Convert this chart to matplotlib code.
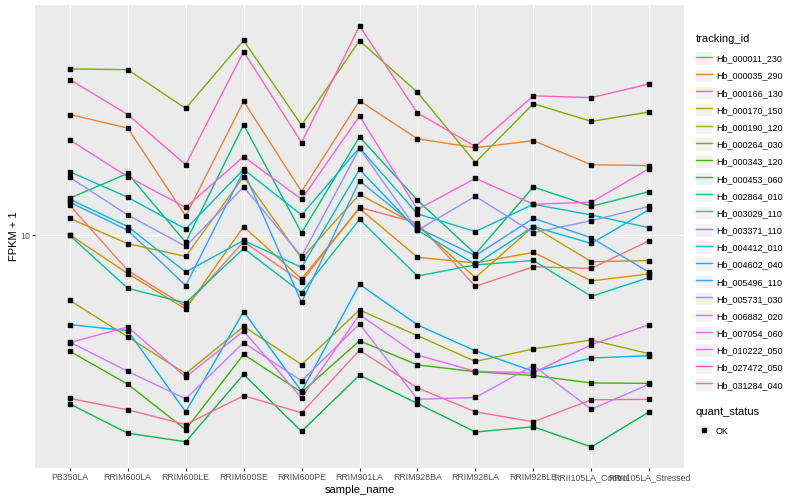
import numpy as np
import matplotlib
matplotlib.use("Agg")
import matplotlib.pyplot as plt
from matplotlib.lines import Line2D
from matplotlib.patches import Rectangle
from matplotlib.legend_handler import HandlerTuple
from matplotlib.ticker import FixedLocator, FixedFormatter, NullLocator

plt.rcParams['font.family'] = ['Liberation Sans', 'DejaVu Sans']

samples = ["PB350LA", "RRIM600LA", "RRIM600LE", "RRIM600SE", "RRIM600PE",
           "RRIM901LA", "RRIM928BA", "RRIM928LA", "RRIM928LE",
           "RRII105LA_Control", "RRII105LA_Stressed"]

genes = ["Hb_000011_230", "Hb_000035_290", "Hb_000166_130", "Hb_000170_150",
         "Hb_000190_120", "Hb_000264_030", "Hb_000343_120", "Hb_000453_060",
         "Hb_002864_010", "Hb_003029_110", "Hb_003371_110", "Hb_004412_010",
         "Hb_004602_040", "Hb_005496_110", "Hb_005731_030", "Hb_006882_020",
         "Hb_007054_060", "Hb_010222_050", "Hb_027472_050", "Hb_031284_040"]

# FPKM + 1, one list per gene, in sample order
hb_000011_230 = [12.6, 7.64, 5.80, 9.53, 7.01, 12.4, 11.0, 6.76, 7.86, 7.76, 9.60]
hb_000035_290 = [25.3, 22.8, 11.6, 28.0, 14.0, 28.1, 21.0, 19.6, 20.7, 17.2, 17.1]
hb_000166_130 = [10.05, 7.46, 5.68, 10.7, 7.16, 12.3, 8.45, 8.09, 8.78, 7.05, 7.44]
hb_000170_150 = [11.4, 9.38, 8.51, 15.7, 8.38, 13.7, 10.8, 7.23, 10.7, 8.17, 8.24]
hb_000190_120 = [6.07, 4.59, 3.46, 4.97, 3.71, 5.64, 4.63, 3.80, 4.18, 4.48, 4.03]
hb_000264_030 = [35.9, 35.7, 26.5, 44.7, 23.3, 44.6, 30.0, 17.5, 27.5, 24.0, 25.8]
hb_000343_120 = [4.11, 3.19, 2.25, 4.01, 3.00, 4.45, 3.70, 3.51, 3.41, 3.22, 3.21]
hb_000453_060 = [2.74, 2.19, 2.05, 3.44, 2.22, 3.42, 2.75, 2.21, 2.30, 1.97, 2.58]
hb_002864_010 = [13.3, 16.1, 9.48, 23.4, 10.2, 21.3, 13.1, 8.67, 14.5, 12.5, 14.0]
hb_003029_110 = [10.0, 6.66, 5.95, 9.05, 6.44, 11.3, 7.32, 7.97, 8.25, 6.26, 7.24]
hb_003371_110 = [16.3, 13.4, 10.5, 16.6, 11.7, 19.6, 11.8, 10.3, 12.7, 11.7, 10.6]
hb_004412_010 = [13.2, 10.7, 7.55, 9.62, 7.82, 16.6, 10.4, 8.0, 10.7, 9.40, 12.2]
hb_004602_040 = [5.04, 4.81, 2.58, 5.57, 3.02, 6.87, 5.03, 4.12, 3.52, 3.90, 3.97]
hb_005496_110 = [12.9, 10.4, 6.80, 16.4, 5.98, 15.2, 10.6, 8.56, 11.4, 9.82, 7.53]
hb_005731_030 = [15.6, 11.7, 9.19, 14.5, 8.51, 19.5, 10.4, 13.5, 10.2, 11.2, 12.5]
hb_006882_020 = [4.41, 3.52, 2.85, 4.39, 3.27, 5.07, 2.84, 2.88, 3.68, 2.63, 3.19]
hb_007054_060 = [4.39, 4.95, 3.37, 4.80, 2.87, 5.44, 3.99, 3.52, 3.48, 4.32, 5.04]
hb_010222_050 = [20.8, 15.7, 12.4, 18.3, 13.2, 25.0, 12.2, 15.5, 12.7, 12.9, 16.7]
hb_027472_050 = [33.1, 25.3, 17.2, 41.0, 20.4, 49.9, 25.6, 19.8, 29.2, 28.8, 32.0]
hb_031284_040 = [2.86, 2.62, 2.34, 2.92, 2.56, 4.14, 3.10, 2.58, 2.39, 2.83, 2.84]

series = [hb_000011_230, hb_000035_290, hb_000166_130, hb_000170_150,
          hb_000190_120, hb_000264_030, hb_000343_120, hb_000453_060,
          hb_002864_010, hb_003029_110, hb_003371_110, hb_004412_010,
          hb_004602_040, hb_005496_110, hb_005731_030, hb_006882_020,
          hb_007054_060, hb_010222_050, hb_027472_050, hb_031284_040]

# ggplot2 default hue palette for 20 levels
colors = ["#F8766D", "#EA8331", "#D89000", "#C09B00", "#A3A500", "#7CAE00",
          "#39B600", "#00BB4E", "#00BF7D", "#00C1A3", "#00BFC4", "#00BAE0",
          "#00B0F6", "#35A2FF", "#9590FF", "#C77CFF", "#E76BF3", "#FA62DB",
          "#FF62BC", "#FF6C91"]

fig = plt.figure(figsize=(8, 5), dpi=100)
ax = fig.add_axes([35 / 800, 32 / 500, 649 / 800, 463 / 500])
ax.set_facecolor("#EBEBEB")

x = np.arange(len(samples))
lw = 1.0
ms = 2.2
for vals, c in zip(series, colors):
    ax.plot(x, vals, color=c, lw=lw, zorder=2)
for vals in series:
    ax.plot(x, vals, ls="none", marker="s", ms=ms, color="black", zorder=3)

ax.set_yscale("log")
allv = np.log10(np.concatenate([np.array(s) for s in series]))
lo, hi = allv.min(), allv.max()
pad = (hi - lo) * 0.05
ax.set_ylim(10 ** (lo - pad), 10 ** (hi + pad))
ax.set_xlim(-0.6, len(samples) - 0.4)

ax.yaxis.set_major_locator(FixedLocator([10]))
ax.yaxis.set_major_formatter(FixedFormatter(["10"]))
ax.yaxis.set_minor_locator(NullLocator())
ax.set_xticks(x)
ax.set_xticklabels(samples)

ax.grid(True, color="white", lw=0.8)
ax.set_axisbelow(True)
for sp in ax.spines.values():
    sp.set_visible(False)
ax.tick_params(length=2.2, width=0.8, color="#333333", labelsize=6.3,
               labelcolor="#4D4D4D", pad=1.5)
ax.set_xlabel("sample_name", fontsize=8, labelpad=2)
ax.set_ylabel("FPKM + 1", fontsize=8, labelpad=0.5)

key_bg = "#F2F2F2"
leg_kw = dict(loc="upper left", frameon=False, fontsize=6.5, title_fontsize=8,
              handlelength=1.75, handleheight=1.75, labelspacing=0.52,
              handletextpad=0.45, borderpad=0, borderaxespad=0, alignment="left",
              handler_map={tuple: HandlerTuple(ndivide=1)})

handles1 = [(Rectangle((0, 0), 1, 1, facecolor=key_bg, edgecolor="none"),
             Line2D([], [], color=c, lw=lw)) for c in colors]
leg1 = fig.legend(handles1, genes, bbox_to_anchor=(696 / 800, 1 - 34 / 500),
                  title="tracking_id", **leg_kw)
leg1._legend_box.sep = 6

handles2 = [(Rectangle((0, 0), 1, 1, facecolor=key_bg, edgecolor="none"),
             Line2D([], [], ls="none", marker="s", ms=ms, color="black"))]
leg2 = fig.legend(handles2, ["OK"], bbox_to_anchor=(696 / 800, 1 - 407 / 500),
                  title="quant_status", **leg_kw)
leg2._legend_box.sep = 6

fig.savefig("out.png", dpi=100, facecolor="white")
